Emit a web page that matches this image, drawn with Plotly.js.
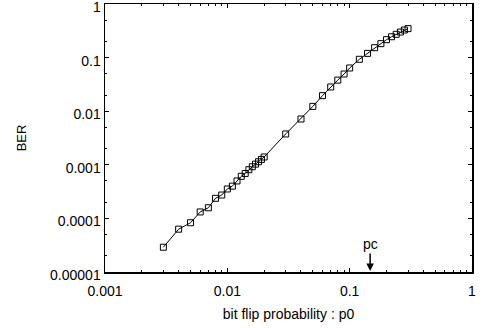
<!DOCTYPE html>
<html>
<head>
<meta charset="utf-8">
<script src="https://cdn.plot.ly/plotly-3.0.1.min.js"></script>
<style>html,body{margin:0;padding:0;background:#fff;}#chart{width:482px;height:328px;}</style>
</head>
<body>
<div id="chart"></div>
<script>
const flipProb = [0.003,0.004,0.005,0.006,0.007,0.008,0.009,0.010,0.011,0.012,0.013,0.014,0.015,0.016,0.017,0.018,0.019,0.020,
  0.03,0.04,0.05,0.06,0.07,0.08,0.09,0.10,0.12,0.14,0.16,0.18,0.20,0.22,0.24,0.26,0.28,0.30];
const ber = [2.9e-5,6.3e-5,8.3e-5,1.32e-4,1.58e-4,2.37e-4,2.73e-4,3.54e-4,4.0e-4,5.0e-4,6.1e-4,6.9e-4,8.1e-4,9.2e-4,1.03e-3,1.14e-3,1.26e-3,1.4e-3,
  3.76e-3,7.15e-3,0.0123,0.0195,0.0283,0.038,0.0494,0.064,0.093,0.12,0.153,0.182,0.216,0.245,0.272,0.30,0.327,0.347];
const xTickVals = [0.001,0.01,0.1,1];
const xTickText = ['0.001','0.01','0.1','1'];
const yTickVals = [0.00001,0.0001,0.001,0.01,0.1,1];
const yTickText = ['0.00001','0.0001','0.001','0.01','0.1','1'];
const pcValue = 0.147;
const pcLabel = 'pc';

const font = {family:'"Liberation Sans", Arial, sans-serif', size:14, color:'#000'};
const trace = {
  x: flipProb, y: ber, type:'scatter', mode:'lines+markers',
  line:{color:'#000', width:1},
  marker:{symbol:'square-open', size:6, color:'#000', line:{width:1, color:'#000'}},
  showlegend:false
};
const layout = {
  width:482, height:328,
  margin:{l:105, r:10, t:4, b:56},
  paper_bgcolor:'#fff', plot_bgcolor:'#fff',
  font: font,
  xaxis:{
    type:'log', range:[-3,0], showgrid:false, zeroline:false,
    showline:true, linecolor:'#000', linewidth:1.5, mirror:'allticks',
    ticks:'inside', ticklen:4, tickwidth:1, tickcolor:'#000',
    tickvals:xTickVals, ticktext:xTickText, tickfont:font,
    ticklabelstandoff:6, ticklabeloverflow:'allow',
    minor:{dtick:'D1', ticks:'inside', ticklen:2, tickcolor:'#000', tickwidth:1, showgrid:false},
    title:{text:'bit flip probability : p0', font:font, standoff:11}
  },
  yaxis:{
    type:'log', range:[-5,0], showgrid:false, zeroline:false,
    showline:true, linecolor:'#000', linewidth:1.5, mirror:'allticks',
    ticks:'inside', ticklen:4, tickwidth:1, tickcolor:'#000',
    tickvals:yTickVals, ticktext:yTickText, tickfont:font,
    ticklabeloverflow:'allow', ticklabelshift:3,
    minor:{dtick:'D2', ticks:'inside', ticklen:2, tickcolor:'#000', tickwidth:1, showgrid:false},
    title:{text:'BER', font:{family:font.family, size:13, color:'#000'}, standoff:20}
  },
  annotations:[{
    x:Math.log10(pcValue), y:-5, xref:'x', yref:'y',
    text:pcLabel, font:font, showarrow:true,
    ax:0, ay:-28, arrowhead:2, arrowsize:1, arrowwidth:1.5, arrowcolor:'#000', standoff:1
  }]
};
Plotly.newPlot('chart',[trace],layout,{displayModeBar:false, staticPlot:true});
</script>
</body>
</html>
